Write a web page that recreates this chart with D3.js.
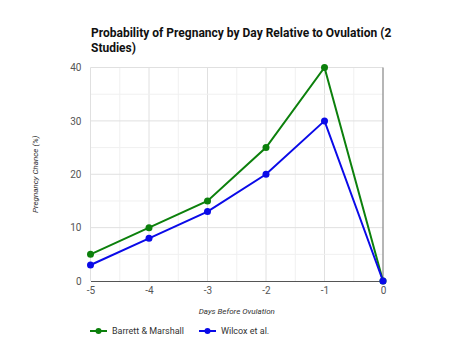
<!DOCTYPE html>
<html><head><meta charset="utf-8">
<script src="https://cdn.jsdelivr.net/npm/d3@7"></script>
<style>body{margin:0;background:#fff;}svg{display:block;font-family:Roboto,sans-serif;}</style>
</head><body><svg id="c" width="474" height="348"></svg>
<script>
const days = [-5, -4, -3, -2, -1, 0];
const barrett = [5, 10, 15, 25, 40, 0];
const wilcox = [3, 8, 13, 20, 30, 0];
const yTicks = [0, 10, 20, 30, 40];
const seriesNames = ["Barrett & Marshall", "Wilcox et al."];
const seriesColors = ["#0c800c", "#0a0ae8"];

const svg = d3.select("#c");
const m = {l: 90.5, r: 383, t: 67.5, b: 281};
const x = d3.scaleLinear().domain([-5, 0]).range([m.l, m.r]);
const y = d3.scaleLinear().domain([0, 40]).range([m.b, m.t]);

// gridlines
const minorX = d3.range(-4.5, 0, 0.5);
const minorY = d3.range(5, 40, 5);
svg.append("g").selectAll("line").data(minorX).join("line")
  .attr("x1", d => x(d)).attr("x2", d => x(d)).attr("y1", m.t).attr("y2", m.b)
  .attr("stroke", d => Number.isInteger(d) ? "#e0e0e0" : "#f0f0f0").attr("stroke-width", 1);
svg.append("g").selectAll("line").data(minorY).join("line")
  .attr("y1", d => y(d)).attr("y2", d => y(d)).attr("x1", m.l).attr("x2", m.r)
  .attr("stroke", d => d % 10 === 0 ? "#e0e0e0" : "#f0f0f0").attr("stroke-width", 1);
svg.append("line").attr("x1", m.l).attr("x2", m.r).attr("y1", y(40)).attr("y2", y(40)).attr("stroke", "#e0e0e0");
svg.append("line").attr("x1", m.l).attr("x2", m.l).attr("y1", m.t).attr("y2", m.b).attr("stroke", "#e0e0e0");
svg.append("line").attr("x1", m.r).attr("x2", m.r).attr("y1", m.t).attr("y2", m.b).attr("stroke", "#9e9e9e").attr("stroke-width", 1.5);

// y axis labels
const yAxis = d3.axisLeft(y).tickValues(yTicks).tickSize(0).tickPadding(9);
const gy = svg.append("g").attr("transform", `translate(${m.l},0)`).call(yAxis);
gy.select(".domain").remove();
gy.selectAll("text").attr("fill", "#555").attr("font-size", 10).attr("font-family", "Roboto");

// x axis
const xAxis = d3.axisBottom(x).tickValues(days).tickSize(0).tickPadding(6).tickFormat(d => String(d));
const gx = svg.append("g").attr("transform", `translate(0,${m.b})`).call(xAxis);
gx.select(".domain").attr("stroke", "#555").attr("stroke-width", 1);
gx.selectAll("text").attr("fill", "#555").attr("font-size", 10).attr("font-family", "Roboto");

// lines
const line = d3.line().x((d, i) => x(days[i])).y(d => y(d));
[barrett, wilcox].forEach((s, k) => {
  svg.append("path").datum(s).attr("d", line).attr("fill", "none")
    .attr("stroke", seriesColors[k]).attr("stroke-width", 2);
  svg.append("g").selectAll("circle").data(s).join("circle")
    .attr("cx", (d, i) => x(days[i])).attr("cy", d => y(d)).attr("r", 3.5)
    .attr("fill", seriesColors[k]);
});

// title
const title = svg.append("text").attr("x", 91).attr("y", 36.5).attr("font-size", 12)
  .attr("font-weight", "bold").attr("fill", "#111").attr("font-family", "Roboto");
title.append("tspan").attr("x", 91).attr("dy", 0).text("Probability of Pregnancy by Day Relative to Ovulation (2");
title.append("tspan").attr("x", 91).attr("dy", 15).text("Studies)");

// axis titles
svg.append("text").attr("x", (m.l + m.r) / 2).attr("y", 314).attr("text-anchor", "middle")
  .attr("font-size", 8).attr("font-style", "italic").attr("fill", "#333").text("Days Before Ovulation");
svg.append("text").attr("transform", `translate(38,${(m.t + m.b) / 2}) rotate(-90)`).attr("text-anchor", "middle")
  .attr("font-size", 8).attr("font-style", "italic").attr("fill", "#333").text("Pregnancy Chance (%)");

// legend
const legX = [90, 199];
seriesNames.forEach((n, k) => {
  const g = svg.append("g").attr("transform", `translate(${legX[k]},331)`);
  g.append("line").attr("x1", 0).attr("x2", 17).attr("stroke", seriesColors[k]).attr("stroke-width", 2);
  g.append("circle").attr("cx", 8.5).attr("r", 3).attr("fill", seriesColors[k]);
  g.append("text").attr("x", 22).attr("y", 3.3).attr("font-size", 9).attr("fill", "#333").text(n);
});
</script></body></html>
